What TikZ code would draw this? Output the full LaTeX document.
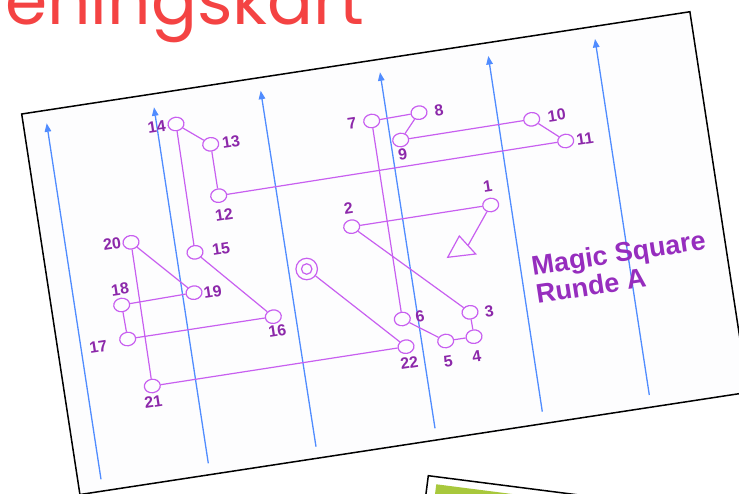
\documentclass[tikz,border=0pt]{standalone}
\usepackage{fontspec}
\setmainfont{Liberation Sans}
\newfontfamily\titlefont{Poppins}
\usetikzlibrary{arrows.meta,shapes.geometric}
\definecolor{routec}{RGB}{200,95,240}
\definecolor{labelc}{RGB}{140,40,170}
\definecolor{arrowc}{RGB}{80,140,255}
\definecolor{titlec}{RGB}{244,67,67}
\definecolor{cardgreen}{RGB}{168,200,60}
\definecolor{textc}{RGB}{150,45,190}
\definecolor{paperc}{RGB}{253,253,254}
\begin{document}
\begin{tikzpicture}[x=1pt,y=-1pt,
  ctrl/.style={ellipse, draw=routec, line width=1.2pt, minimum width=16pt, minimum height=13.5pt, inner sep=0pt, rotate=8.7},
  lbl/.style={text=labelc, font=\fontsize{16}{16}\selectfont\bfseries, rotate=8.7, inner sep=0pt},
  leg/.style={draw=routec, line width=1.2pt},
  northline/.style={draw=arrowc, line width=1.3pt, -{Triangle[width=6.5pt,length=8.5pt]}},
  bigtext/.style={anchor=base west, rotate=8.7, align=left, text=textc, font=\fontsize{27}{28.5}\selectfont\bfseries, inner sep=0pt}]
\useasboundingbox (0,0) rectangle (739,494);
\begin{scope}
\clip (0,0) rectangle (739,494);
% title
\node[anchor=base east, text=titlec, font=\titlefont\fontsize{68}{70}\selectfont, inner sep=0pt] (title) at (364,25) {Treningskart};
% paper
\begin{scope}[shift={(21.7,114)}, rotate=8.7]
\draw[line width=1.5pt, fill=paperc] (0,0) rectangle (676,385);
\end{scope}
% second card
\begin{scope}[shift={(428.3,475.7)}, rotate=-7.3]
\draw[line width=1.5pt, fill=white] (0,0) rectangle (400,120);
\fill[cardgreen] (9,7.5) rectangle (390,110);
\end{scope}
\end{scope}
% north lines
\coordinate (a1t) at (46.7,123.3);  \coordinate (a1b) at (101,479.3);
\coordinate (a2t) at (154,107.3);   \coordinate (a2b) at (208.3,463.3);
\coordinate (a3t) at (260.7,90.7);  \coordinate (a3b) at (316,446.7);
\coordinate (a4t) at (380,72.3);    \coordinate (a4b) at (435,428.3);
\coordinate (a5t) at (488.3,56);    \coordinate (a5b) at (542.3,411.7);
\coordinate (a6t) at (595,39);      \coordinate (a6b) at (649.3,395);
\foreach \i in {1,...,6} \draw[northline] (a\i b) -- (a\i t);
% controls
\node[ctrl] (c1) at (490.7,205) {};
\node[ctrl] (c2) at (351.7,226.7) {};
\node[ctrl] (c3) at (470,312.3) {};
\node[ctrl] (c4) at (474,336.7) {};
\node[ctrl] (c5) at (445.7,341) {};
\node[ctrl] (c6) at (402.3,319) {};
\node[ctrl] (c7) at (371.7,121) {};
\node[ctrl] (c8) at (419,112.7) {};
\node[ctrl] (c9) at (400.7,140) {};
\node[ctrl] (c10) at (531.7,119.3) {};
\node[ctrl] (c11) at (565.7,141) {};
\node[ctrl] (c12) at (218.7,195.7) {};
\node[ctrl] (c13) at (210.7,144.3) {};
\node[ctrl] (c14) at (176,124) {};
\node[ctrl] (c15) at (195,252.3) {};
\node[ctrl] (c16) at (273.3,316.7) {};
\node[ctrl] (c17) at (127.7,339) {};
\node[ctrl] (c18) at (121.7,305) {};
\node[ctrl] (c19) at (194,292.7) {};
\node[ctrl] (c20) at (131,242.3) {};
\node[ctrl] (c21) at (152.3,386) {};
\node[ctrl] (c22) at (406,346.7) {};
% finish
\node[circle, draw=routec, line width=1.2pt, minimum size=21.5pt, inner sep=0pt] (fin) at (306.7,269) {};
\node[circle, draw=routec, line width=1.2pt, minimum size=10.5pt, inner sep=0pt] (fininner) at (fin) {};
% start
\coordinate (s1) at (447.7,257.3);
\coordinate (s2) at (475.7,254);
\coordinate (s3) at (459.3,236);
\draw[leg, line join=miter] (s1) -- (s2) -- (s3) -- cycle;
\coordinate (sedge) at (468.3,245);
\draw[leg] (sedge) -- (c1);
% legs
\foreach \a/\b in {1/2,2/3,3/4,4/5,5/6,6/7,7/8,8/9,9/10,10/11,11/12,12/13,13/14,14/15,15/16,16/17,17/18,18/19,19/20,20/21,21/22}
  \draw[leg] (c\a) -- (c\b);
\draw[leg] (c22) -- (fin);
% labels
\node[lbl] (l1) at (487.7,186.7) {1};
\node[lbl] (l2) at (348.3,208.3) {2};
\node[lbl] (l3) at (489.3,311) {3};
\node[lbl] (l4) at (476.7,356.7) {4};
\node[lbl] (l5) at (448.3,361.7) {5};
\node[lbl] (l6) at (420,316.7) {6};
\node[lbl] (l7) at (352,123) {7};
\node[lbl] (l8) at (439,110.7) {8};
\node[lbl] (l9) at (402.7,154) {9};
\node[lbl] (l10) at (556.7,115.3) {10};
\node[lbl] (l11) at (585,139) {11};
\node[lbl] (l12) at (224,215) {12};
\node[lbl] (l13) at (231,142) {13};
\node[lbl] (l14) at (156.7,126.7) {14};
\node[lbl] (l15) at (221,249) {15};
\node[lbl] (l16) at (277.3,331) {16};
\node[lbl] (l17) at (98.3,346.7) {17};
\node[lbl] (l18) at (120,289.3) {18};
\node[lbl] (l19) at (212.7,291.7) {19};
\node[lbl] (l20) at (112,244) {20};
\node[lbl] (l21) at (153.3,401.7) {21};
\node[lbl] (l22) at (409.3,362.7) {22};
% course name (anchor on the baseline of the last line)
\node[bigtext] (ms) at (537.3,303.7) {Magic Square\\Runde A};
\end{tikzpicture}
\end{document}
